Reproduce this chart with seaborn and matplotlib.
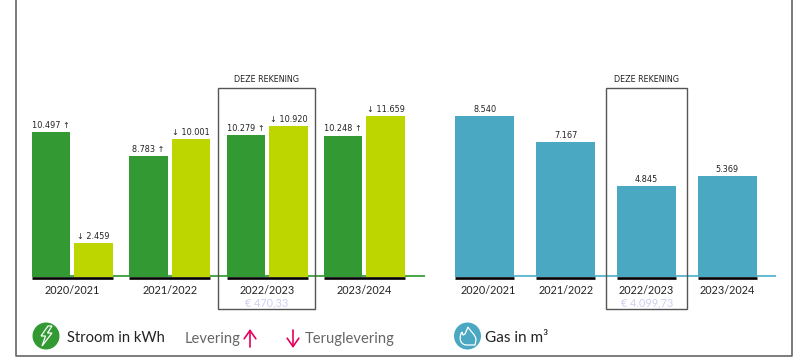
import pandas as pd
import seaborn as sns
import matplotlib.pyplot as plt
from matplotlib.patches import Circle, Rectangle, Polygon, PathPatch
from matplotlib.path import Path
from matplotlib.transforms import ScaledTranslation

# Data
years = ['2020/2021', '2021/2022', '2022/2023', '2023/2024']
levering = [10497, 8783, 10279, 10248]
teruglevering = [2459, 10001, 10920, 11659]
gas = [8540, 7167, 4845, 5369]
kosten_stroom = '€ 470,33'
kosten_gas = '€ 4.099,73'

DARK_GREEN = '#339933'
LIME = '#BDD600'
TEAL = '#4AA8C3'
FAMILY = ['Lato', 'DejaVu Sans']
NUM_FAMILY = 'DejaVu Sans'


def nl(v):
    return f'{v:,}'.replace(',', '.')


def pixel_axes(fig, x0, x1, top, bottom=277):
    return fig.add_axes([x0 / 800, (360 - bottom) / 360, (x1 - x0) / 800, (bottom - top) / 360], facecolor='none')


def style_axis(ax, baseline, line_color, bar_w):
    ax.set_xlabel('')
    ax.set_ylabel('')
    ax.set_yticks([])
    ax.tick_params(axis='x', length=0, pad=6, labelsize=7.8, colors='#222222')
    for lab in ax.get_xticklabels():
        lab.set_family(FAMILY)
    sns.despine(ax=ax, left=True, bottom=True)
    ax.axhline(baseline, color=line_color, lw=1.5, zorder=0)
    ax.hlines([-1.2 * baseline] * len(years), [i - bar_w / 2 for i in range(len(years))],
              [i + bar_w / 2 for i in range(len(years))], color='black', lw=1.9, clip_on=False, zorder=3)


sns.set_theme(style='white')
plt.rcParams['font.family'] = FAMILY

fig = plt.figure(figsize=(8, 3.6), dpi=100)

# Stroom
df_stroom = pd.DataFrame({
    'jaar': years * 2,
    'soort': ['Levering'] * 4 + ['Teruglevering'] * 4,
    'kWh': levering + teruglevering,
})
ax1 = pixel_axes(fig, 32, 425, 100)
sns.barplot(data=df_stroom, x='jaar', y='kWh', hue='soort', order=years, palette=[DARK_GREEN, LIME],
            width=0.8736, gap=0.094, saturation=1, legend=False, linewidth=0, ax=ax1)
ax1.set_xlim(-0.416, 3.623)
ax1.set_ylim(0, 177 / 0.0138)
ax1.bar_label(ax1.containers[0], labels=[f'{nl(v)} ↑' for v in levering], padding=1.5, fontsize=5.9,
              family=NUM_FAMILY, color='#222222')
ax1.bar_label(ax1.containers[1], labels=[f'↓ {nl(v)}' for v in teruglevering], padding=1.5, fontsize=5.9,
              family=NUM_FAMILY, color='#222222')
style_axis(ax1, 1 / 0.0138, '#4EA64E', 0.8325)

# Gas
df_gas = pd.DataFrame({'jaar': years, 'm3': gas})
ax2 = pixel_axes(fig, 454.7, 775.7, 100)
sns.barplot(data=df_gas, x='jaar', y='m3', order=years, color=TEAL, width=0.731, saturation=1, linewidth=0, ax=ax2)
ax2.set_xlim(-0.375, 3.603)
ax2.set_ylim(0, 177 / 0.01885)
ax2.bar_label(ax2.containers[0], labels=[nl(v) for v in gas], padding=1.5, fontsize=5.9,
              family=NUM_FAMILY, color='#222222')
style_axis(ax2, 1 / 0.01885, '#68BBD0', 0.731)
# first gas label sits a little right of its bar in the original
first = ax2.get_xticklabels()[0]
first.set_transform(first.get_transform() + ScaledTranslation(0.03, 0, fig.dpi_scale_trans))

# overlay in pixel coordinates for frames, legend and icons
ov = fig.add_axes([0, 0, 1, 1], facecolor='none')
ov.set_xlim(0, 800)
ov.set_ylim(360, 0)
ov.axis('off')

ov.plot([15.5, 15.5, 792.3, 792.3], [-5, 355.7, 355.7, -5], color='#666666', lw=1.2)
for x0, x1, cost in [(218.3, 315.3, kosten_stroom), (606.3, 687, kosten_gas)]:
    ov.add_patch(Rectangle((x0, 88), x1 - x0, 221.3, fill=False, ec='#555555', lw=1))
    mid = (x0 + x1) / 2
    ov.text(mid, 79.5, 'DEZE REKENING', ha='center', va='center', fontsize=5.8, family=NUM_FAMILY, color='#222222')
    ov.text(mid, 303, cost, ha='center', va='center', fontsize=7.8, color='#CFCFF2')

# legend
ov.add_patch(Circle((46, 336), 13.5, fc=DARK_GREEN, ec='none'))
ov.add_patch(Polygon([(48, 326), (41, 336), (45.5, 336), (42, 346), (52, 333), (47.5, 333), (52, 326)],
                     fill=False, ec='white', lw=0.9))
ov.text(67, 338.5, 'Stroom in kWh', va='center', fontsize=10.6, color='#222222')
ov.text(185, 338.5, 'Levering', va='center', fontsize=10.6, color='#666666')
ov.text(305, 338.5, 'Teruglevering', va='center', fontsize=10.6, color='#666666')
ov.annotate('', xy=(250, 329), xytext=(250, 347),
            arrowprops=dict(arrowstyle='->,head_width=0.35,head_length=0.5', color='#E6005C', lw=1.2,
                            shrinkA=0, shrinkB=0, mutation_scale=12))
ov.annotate('', xy=(293, 348), xytext=(293, 330),
            arrowprops=dict(arrowstyle='->,head_width=0.35,head_length=0.5', color='#E6005C', lw=1.2,
                            shrinkA=0, shrinkB=0, mutation_scale=12))

ov.add_patch(Circle((467.5, 336), 13.5, fc=TEAL, ec='none'))
flame = Path([(467, 345), (459, 345), (459, 336), (462, 332), (463, 335), (465, 334), (468, 327),
              (470, 331), (476, 335), (476, 340), (475, 345), (467, 345)],
             [Path.MOVETO, Path.CURVE4, Path.CURVE4, Path.CURVE4, Path.LINETO, Path.LINETO, Path.LINETO,
              Path.CURVE4, Path.CURVE4, Path.CURVE4, Path.LINETO, Path.LINETO])
ov.add_patch(PathPatch(flame, fill=False, ec='white', lw=0.9))
ov.text(485, 338, 'Gas in m³', va='center', fontsize=11, color='#222222')

plt.savefig('out.png', dpi=100)
